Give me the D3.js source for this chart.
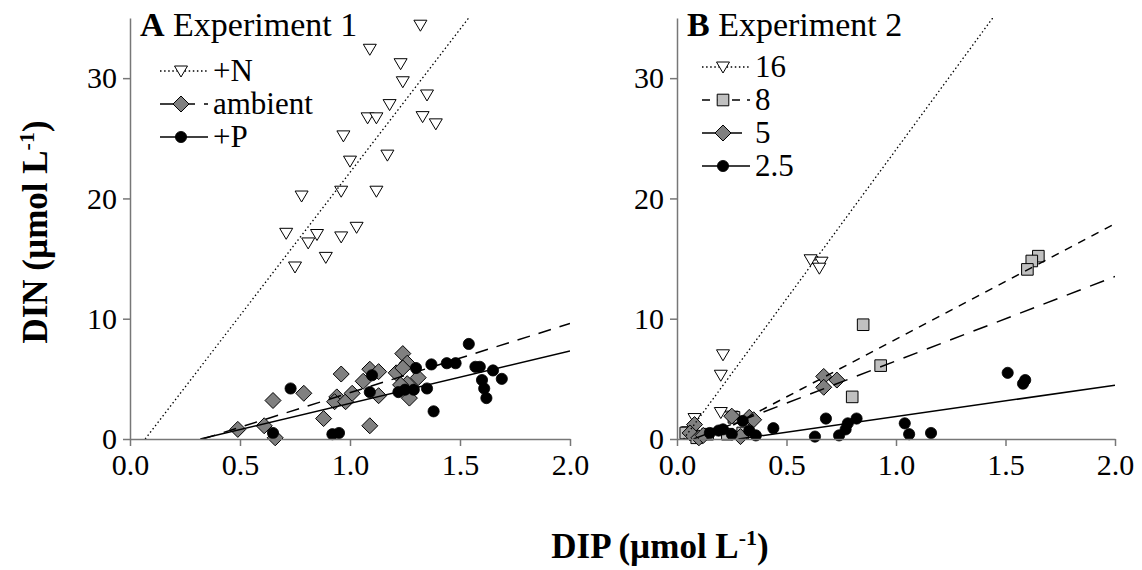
<!DOCTYPE html>
<html><head><meta charset="utf-8">
<script src="https://cdn.jsdelivr.net/npm/d3@7"></script>
<style>
body{margin:0;background:#fff}
svg{display:block}
text{font-family:"Liberation Serif","Times New Roman","DejaVu Serif",serif;fill:#000}
</style>
</head><body>
<svg id="chart" width="1142" height="570"></svg>
<script>
// ---------- data ----------
const xTicks = [0, 0.5, 1, 1.5, 2];
const xTickLabels = ["0.0", "0.5", "1.0", "1.5", "2.0"];
const yTicks = [0, 10, 20, 30];
const yTickLabels = ["0", "10", "20", "30"];

// Experiment 1 (DIP, DIN)
const expA_N = [[1.32,34.4],[1.09,32.4],[1.23,31.2],[1.24,29.7],[1.35,28.6],[1.18,27.8],[1.08,26.7],[1.12,26.7],[1.33,26.8],[1.39,26.2],[0.97,25.2],[1.17,23.6],[1.00,23.1],[1.12,20.6],[0.96,20.6],[0.78,20.2],[0.71,17.1],[0.85,17.0],[0.81,16.3],[1.03,17.6],[0.96,16.8],[0.89,15.1],[0.75,14.3]];
const expA_ambient = [[0.49,0.8],[0.61,1.1],[0.66,0.1],[0.65,3.2],[0.79,3.8],[0.88,1.7],[0.96,5.4],[0.94,3.5],[0.93,3.1],[0.98,3.1],[1.01,3.8],[1.09,1.1],[1.06,4.8],[1.09,5.8],[1.13,5.6],[1.13,3.6],[1.21,5.5],[1.24,7.1],[1.26,6.3],[1.31,5.1],[1.26,4.6],[1.27,3.4],[1.23,4.5],[1.24,5.9]];
const expA_P = [[0.73,4.2],[0.65,0.5],[0.92,0.4],[0.95,0.5],[1.10,5.3],[1.09,3.9],[1.22,3.9],[1.25,4.1],[1.29,4.1],[1.30,5.9],[1.35,4.2],[1.37,6.2],[1.38,2.3],[1.44,6.3],[1.48,6.3],[1.54,7.9],[1.57,6.0],[1.59,6.0],[1.65,5.7],[1.60,4.9],[1.61,4.2],[1.62,3.4],[1.69,5.0]];

// Experiment 2 (DIP, DIN)
const expB_16 = [[0.61,14.9],[0.66,14.7],[0.65,14.2],[0.21,7.0],[0.20,5.3],[0.08,1.7],[0.20,2.2],[0.05,0.6],[0.07,0.3],[0.25,1.9]];
const expB_8 = [[0.85,9.5],[0.93,6.1],[0.80,3.5],[1.65,15.2],[1.62,14.8],[1.60,14.1],[0.14,0.4],[0.23,0.4],[0.26,1.8],[0.09,0.1],[0.30,0.5],[0.04,0.5]];
const expB_5 = [[0.67,5.2],[0.73,4.9],[0.67,4.3],[0.08,1.2],[0.06,0.5],[0.10,0.1],[0.25,1.9],[0.33,1.8],[0.35,1.6],[0.29,0.2],[0.12,0.3]];
const expB_25 = [[0.68,1.7],[0.63,0.2],[0.74,0.3],[0.78,1.3],[0.77,0.8],[0.82,1.7],[1.04,1.3],[1.06,0.4],[1.16,0.5],[1.51,5.5],[1.58,4.6],[1.59,4.9],[0.44,0.9],[0.19,0.7],[0.25,0.4],[0.30,1.5],[0.33,0.7],[0.36,0.3],[0.15,0.5],[0.21,0.8]];

// series names, trend slopes / intercepts
const namesA = ["+N", "ambient", "+P"];
const slopesA = [23.8, 5.75, 4.35];
const interceptsA = [-1.64, -1.90, -1.39];
const namesB = ["16", "8", "5", "2.5"];
const slopesB = [24.8, 9.6, 7.02, 2.6];
const interceptsB = [-0.75, -1.30, -0.53, -0.73];

// ---------- drawing ----------
const FONT = '"Liberation Serif","Times New Roman","DejaVu Serif",serif';
const svg = d3.select("#chart");
const plotTop = 18, plotBottom = 439;
const axisColor = "#777";

const markerPaths = {
  tri: "M-6.5,-5L6.5,-5L0,6Z",
  diamond: "M0,-8L8,0L0,8L-8,0Z",
  square: "M-5.8,-5.8L5.8,-5.8L5.8,5.8L-5.8,5.8Z"
};
const styles = {
  N:   {shape:"tri", fill:"#fff", dash:"1.5 2.6", width:1.3},
  amb: {shape:"diamond", fill:"#808080", dash:"13 9", width:1.5},
  P:   {shape:"circle", fill:"#000", dash:null, width:1.5},
  s16: {shape:"tri", fill:"#fff", dash:"1.5 2.6", width:1.3},
  s8:  {shape:"square", fill:"#c0c0c0", dash:"8 7", width:1.5},
  s5:  {shape:"diamond", fill:"#808080", dash:"15 10", width:1.5},
  s25: {shape:"circle", fill:"#000", dash:null, width:1.5}
};

function drawMarker(g, x, y, st) {
  if (st.shape === "circle") {
    g.append("circle").attr("cx", x).attr("cy", y).attr("r", 5.6)
      .attr("fill", st.fill).attr("stroke", "#000").attr("stroke-width", 0.8);
  } else {
    g.append("path").attr("d", markerPaths[st.shape])
      .attr("transform", `translate(${x},${y})`)
      .attr("fill", st.fill).attr("stroke", "#000").attr("stroke-width", 1);
  }
}

function panel(cfg) {
  const x = d3.scaleLinear().domain([0, 2]).range([cfg.left, cfg.right]);
  const y = d3.scaleLinear().domain([0, 35]).range([plotBottom, plotTop]);
  const g = svg.append("g");

  cfg.series.forEach(s => {
    const mg = g.append("g");
    s.data.forEach(d => drawMarker(mg, x(d[0]), y(d[1]), s.style));
  });

  const clipId = "clip" + cfg.id;
  svg.append("clipPath").attr("id", clipId).append("rect")
    .attr("x", cfg.left).attr("y", plotTop).attr("width", cfg.right - cfg.left).attr("height", plotBottom - plotTop);
  cfg.series.forEach(s => {
    const x0 = -s.intercept / s.slope;
    let x1 = 2;
    if (s.slope * x1 + s.intercept > 35) x1 = (35 - s.intercept) / s.slope;
    g.append("line")
      .attr("clip-path", `url(#${clipId})`)
      .attr("x1", x(x0)).attr("y1", y(s.slope * x0 + s.intercept))
      .attr("x2", x(x1)).attr("y2", y(s.slope * x1 + s.intercept))
      .attr("stroke", "#000").attr("stroke-width", s.style.width)
      .attr("stroke-dasharray", s.style.dash);
  });

  const xa = svg.append("g").attr("transform", `translate(0,${plotBottom})`)
    .call(d3.axisBottom(x).tickValues(xTicks).tickFormat((d, i) => xTickLabels[i]).tickSize(7).tickSizeOuter(0).tickPadding(8));
  const ya = svg.append("g").attr("transform", `translate(${cfg.left},0)`)
    .call(d3.axisLeft(y).tickValues(yTicks).tickFormat((d, i) => yTickLabels[i]).tickSize(7).tickSizeOuter(0).tickPadding(6));
  [xa, ya].forEach(a => {
    a.attr("font-family", null).attr("font-size", null);
    a.select(".domain").attr("stroke", axisColor).attr("stroke-width", 1.5);
    a.selectAll(".tick line").attr("stroke", axisColor).attr("stroke-width", 1.5);
    a.selectAll(".tick text").style("font-size", "30px").style("font-family", FONT).attr("fill", "#000");
  });

  const t = svg.append("text").attr("x", cfg.left + 10).attr("y", 36)
    .style("font-size", "34px").style("font-family", FONT);
  t.append("tspan").attr("font-weight", "bold").text(cfg.letter);
  t.append("tspan").text(" " + cfg.title);

  cfg.series.forEach((s, i) => {
    const cy = cfg.legendY0 + i * 33;
    const lx0 = cfg.left + cfg.legendDx, lx1 = lx0 + 48, mx = lx0 + 21;
    svg.append("line").attr("x1", lx0).attr("x2", lx1).attr("y1", cy).attr("y2", cy)
      .attr("stroke", "#000").attr("stroke-width", s.style.width).attr("stroke-dasharray", s.style.dash);
    drawMarker(svg, mx, cy, s.style);
    svg.append("text").attr("x", lx1 + 5).attr("y", cy + 10)
      .style("font-size", "31px").style("font-family", FONT).text(s.name);
  });
}

panel({
  id: "A", left: 130, right: 570, letter: "A", title: "Experiment 1", legendY0: 71, legendDx: 30,
  series: [
    {name: namesA[0], data: expA_N, slope: slopesA[0], intercept: interceptsA[0], style: styles.N},
    {name: namesA[1], data: expA_ambient, slope: slopesA[1], intercept: interceptsA[1], style: styles.amb},
    {name: namesA[2], data: expA_P, slope: slopesA[2], intercept: interceptsA[2], style: styles.P}
  ]
});
panel({
  id: "B", left: 677, right: 1115, letter: "B", title: "Experiment 2", legendY0: 67, legendDx: 25,
  series: [
    {name: namesB[0], data: expB_16, slope: slopesB[0], intercept: interceptsB[0], style: styles.s16},
    {name: namesB[1], data: expB_8, slope: slopesB[1], intercept: interceptsB[1], style: styles.s8},
    {name: namesB[2], data: expB_5, slope: slopesB[2], intercept: interceptsB[2], style: styles.s5},
    {name: namesB[3], data: expB_25, slope: slopesB[3], intercept: interceptsB[3], style: styles.s25}
  ]
});

const yt = svg.append("text").attr("transform", "translate(47,232) rotate(-90)")
  .attr("text-anchor", "middle").style("font-size", "35px").style("font-family", FONT).attr("font-weight", "bold");
yt.append("tspan").text("DIN (µmol L");
yt.append("tspan").style("font-size", "22px").attr("dy", -13).text("-1");
yt.append("tspan").attr("dy", 13).text(")");

const xt = svg.append("text").attr("x", 660).attr("y", 558)
  .attr("text-anchor", "middle").style("font-size", "35px").style("font-family", FONT).attr("font-weight", "bold");
xt.append("tspan").text("DIP (µmol L");
xt.append("tspan").style("font-size", "22px").attr("dy", -13).text("-1");
xt.append("tspan").attr("dy", 13).text(")");
</script>
</body></html>
